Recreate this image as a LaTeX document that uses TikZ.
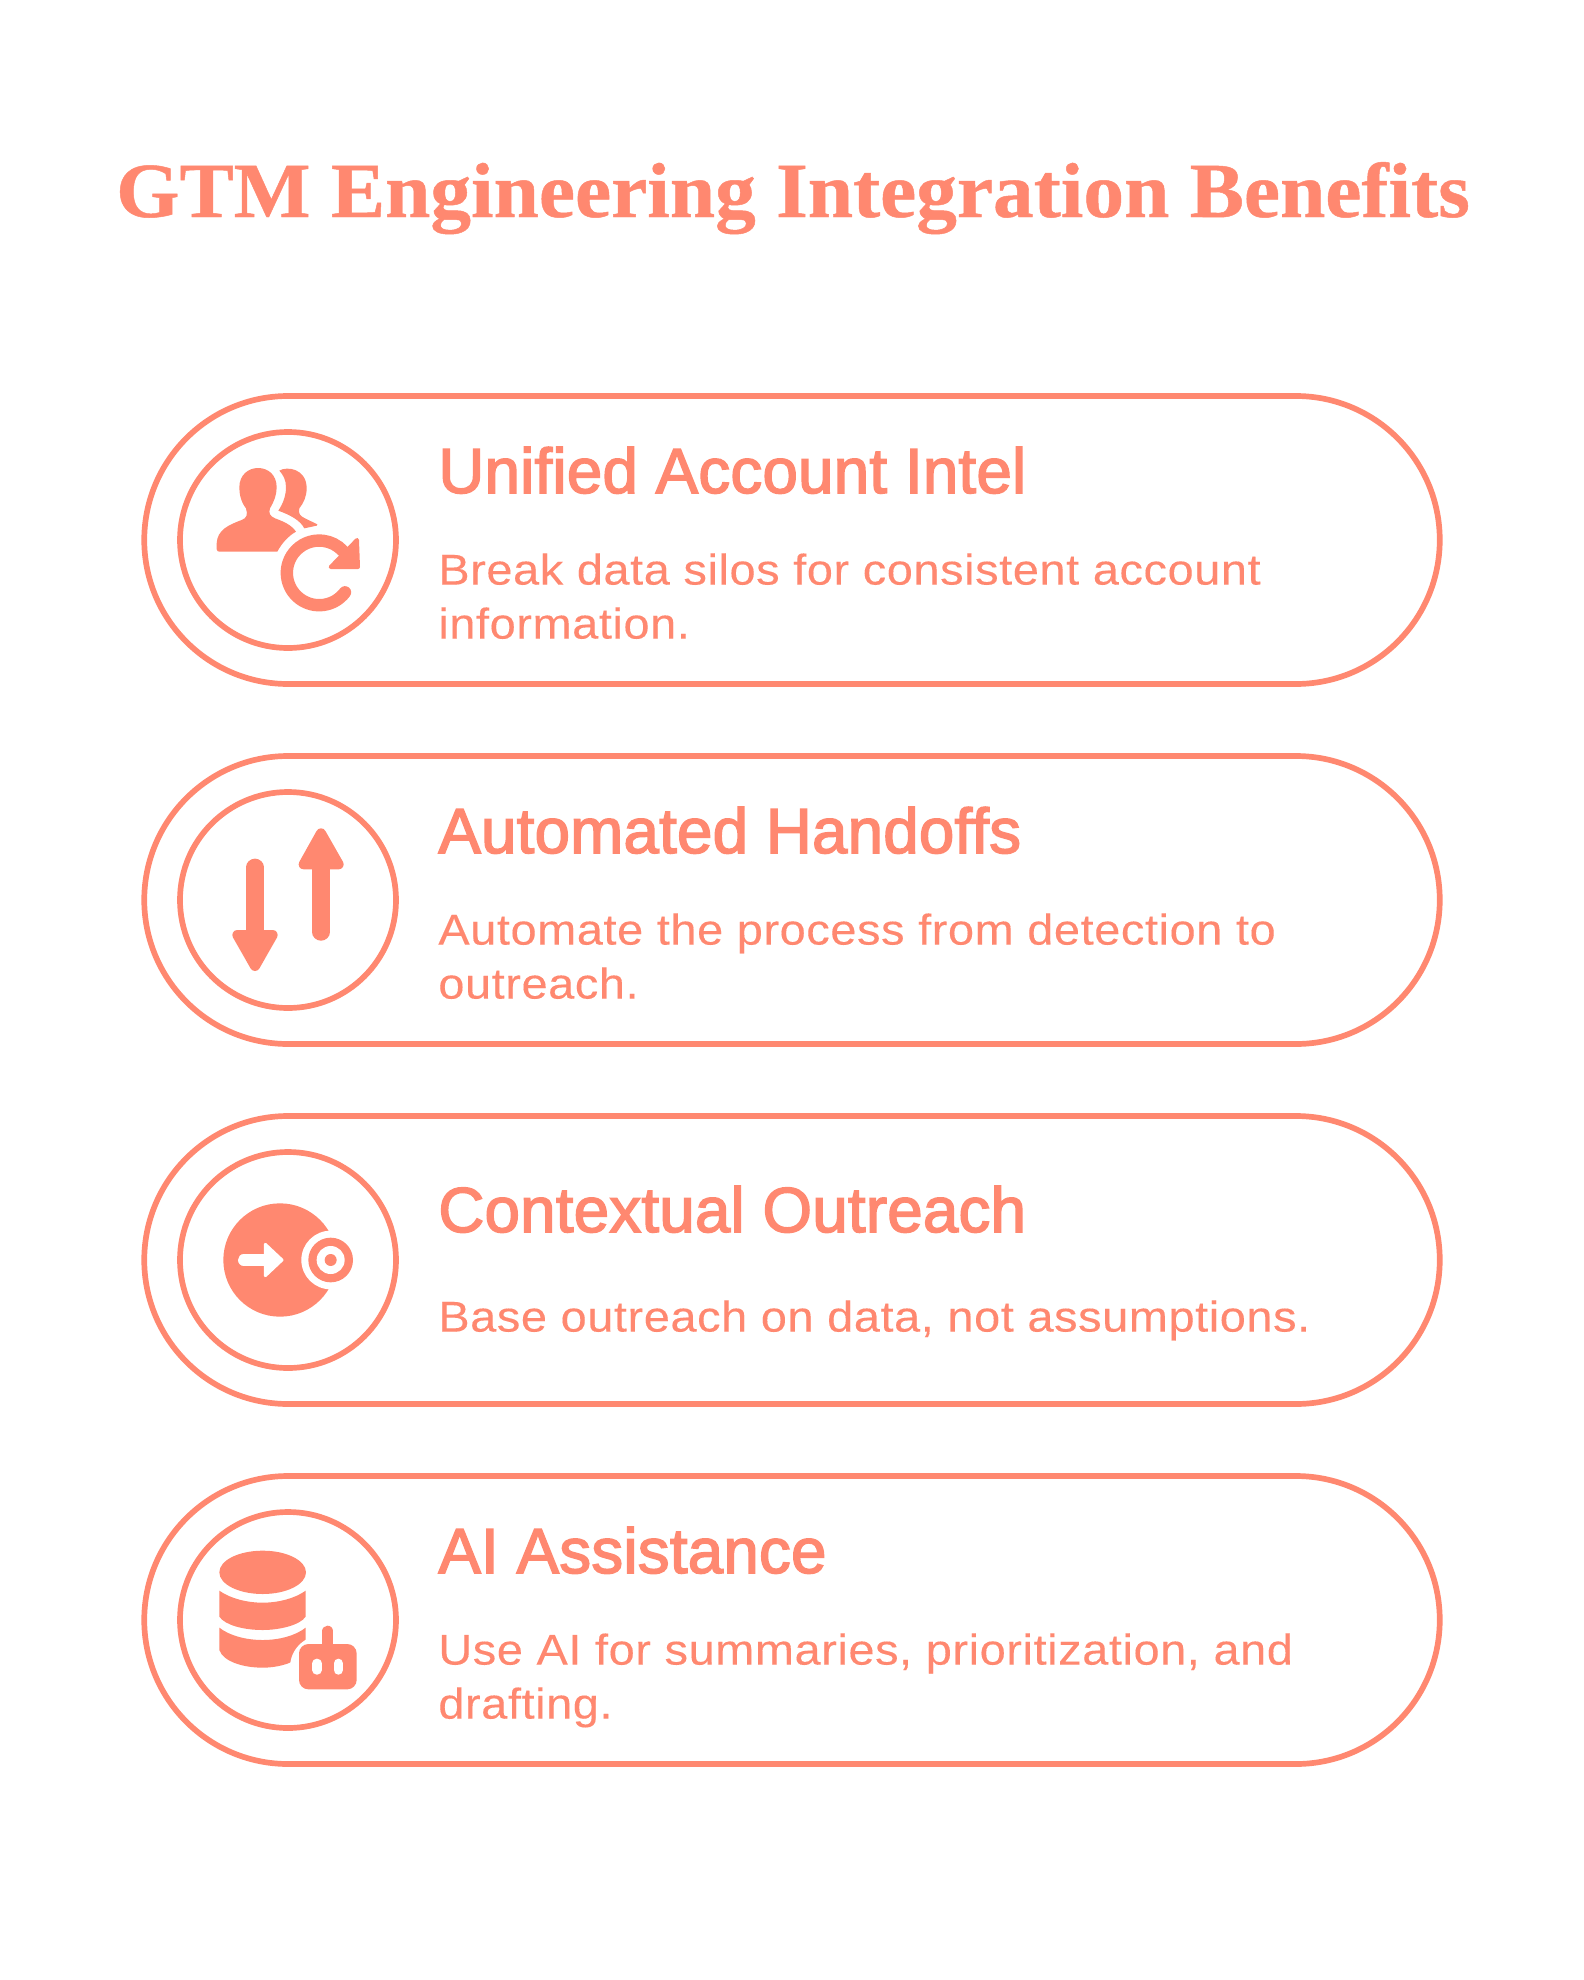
\documentclass[tikz,border=0pt]{standalone}
\usepackage{fontspec}
\usetikzlibrary{shapes.misc}
\setmainfont{Liberation Sans}
\newfontfamily\titlefont[FakeBold=0.6,FakeStretch=1.043]{Liberation Serif Bold}
\newfontfamily\headfont[FakeBold=2.4,LetterSpace=0.4]{Liberation Sans}
\newfontfamily\bodyfont[FakeStretch=1.09,LetterSpace=1.4,FakeBold=0.2]{Liberation Sans}
\definecolor{coral}{HTML}{FF8870}
\tikzset{
	pill/.style={draw=coral, line width=2.85pt, rounded rectangle, minimum width=647.75pt, minimum height=144pt, inner sep=0pt},
	ring/.style={draw=coral, line width=2.85pt, circle, minimum size=108pt, inner sep=0pt},
	titletxt/.style={text=coral, anchor=base, font=\titlefont\fontsize{39}{46}\selectfont, inner sep=0pt},
	headtxt/.style={text=coral, anchor=base west, font=\headfont\fontsize{31.8}{38}\selectfont, inner sep=0pt},
	bodytxt/.style={text=coral, anchor=north west, align=left, font=\bodyfont\fontsize{21.5}{27}\selectfont, inner sep=0pt},
	iconrow/.style={shift={(120,#1)}, scale=1/3},
	softline/.style={line join=round, line width=#1}
}
\begin{document}
\begin{tikzpicture}[x=0.5pt, y=-0.5pt]
	\useasboundingbox (0,0) rectangle (1584,1980);
	\fill[white] (0,0) rectangle (1584,1980);
	\node[titletxt] (title) at (793,217) {GTM Engineering Integration Benefits};
	% first row
	\begin{scope}[iconrow=380, fill=coral, draw=coral]
		\fill (298,515) .. controls (288,515) and (290,505) .. (290,490) .. controls (292,450) and (325,435) .. (365,420) .. controls (380,414) and (384,405) .. (378,385) .. controls (362,365) and (358,340) .. (358,322) .. controls (358,285) and (385,264) .. (414,264) .. controls (445,264) and (470,285) .. (470,322) .. controls (470,345) and (462,365) .. (450,385) .. controls (445,400) and (450,408) .. (465,415) .. controls (490,424) and (515,435) .. (528,455) .. controls (505,468) and (485,490) .. (472,515) -- cycle;
		\fill (478,272) .. controls (500,258) and (560,265) .. (560,325) .. controls (560,350) and (550,370) .. (538,385) .. controls (534,400) and (540,408) .. (555,415) -- (592,433) -- (590,437) -- (553,445) .. controls (540,420) and (510,405) .. (475,392) .. controls (490,370) and (498,345) .. (498,322) .. controls (498,300) and (490,285) .. (478,272) -- cycle;
		\draw[line width=6.2pt, line cap=round] (675,637) arc (37:317:97);
		\fill[draw=coral, softline=2pt] (711,480) -- (714,561) -- (632,561) -- cycle;
	\end{scope}
	\node[pill] (pillone) at (792,540) {};
	\node[ring] (ringone) at (288,540) {};
	\node[headtxt] (headone) at (438,493) {Unified Account Intel};
	\node[bodytxt] (bodyone) at (438,553) {Break data silos for consistent account\\information.};
	% second row
	\begin{scope}[iconrow=740, fill=coral, draw=coral]
		\draw[line width=8.7pt, line cap=round] (405,382) -- (405,590);
		\fill[draw=coral, softline=5pt] (352,585) -- (458,585) -- (405,678) -- cycle;
		\draw[line width=8.7pt, line cap=round] (603,576) -- (603,370);
		\fill[draw=coral, softline=5pt] (551,373) -- (656,373) -- (603,280) -- cycle;
	\end{scope}
	\node[pill] (pilltwo) at (792,900) {};
	\node[ring] (ringtwo) at (288,900) {};
	\node[headtxt] (headtwo) at (438,853) {Automated Handoffs};
	\node[bodytxt] (bodytwo) at (438,913) {Automate the process from detection to\\outreach.};
	% third row
	\begin{scope}[iconrow=1100, fill=coral]
		\fill (480,480) circle (170);
		\fill[white] (632,480) circle (88);
		\fill (632,480) circle (67);
		\fill[white] (632,480) circle (42);
		\fill (632,480) circle (18);
		\draw[white, line width=5.7pt, line cap=round] (371,480) -- (435,480);
		\fill[white, draw=white, softline=1.5pt] (436,433) -- (486,480) -- (436,527) -- cycle;
	\end{scope}
	\node[pill] (pillthree) at (792,1260) {};
	\node[ring] (ringthree) at (288,1260) {};
	\node[headtxt] (headthree) at (438,1232) {Contextual Outreach};
	\node[bodytxt] (bodythree) at (438,1300) {Base outreach on data, not assumptions.};
	% fourth row
	\begin{scope}[iconrow=1460, fill=coral, draw=coral]
		\fill (428,337) ellipse (130 and 65);
		\fill (298,392) .. controls (330,415) and (380,428) .. (428,428) .. controls (476,428) and (525,415) .. (557,392) -- (557,470) .. controls (540,495) and (480,510) .. (428,510) .. controls (370,510) and (315,495) .. (298,470) -- cycle;
		\fill (298,503) .. controls (330,528) and (380,540) .. (428,540) .. controls (476,540) and (525,528) .. (557,503) -- (557,570) .. controls (540,605) and (480,623) .. (428,623) .. controls (370,623) and (310,605) .. (298,570) -- cycle;
		\fill[white, rounded corners=16pt] (510,526) rectangle (737,715);
		\draw[line width=5.7pt, line cap=round] (623,514) -- (623,570);
		\fill[rounded corners=4.7pt] (537,552) rectangle (710,688);
		\draw[white, line width=4.7pt, line cap=round] (591,610) -- (591,630);
		\draw[white, line width=4.7pt, line cap=round] (655,610) -- (655,630);
	\end{scope}
	\node[pill] (pillfour) at (792,1620) {};
	\node[ring] (ringfour) at (288,1620) {};
	\node[headtxt] (headfour) at (438,1573) {AI Assistance};
	\node[bodytxt] (bodyfour) at (438,1633) {Use AI for summaries, prioritization, and\\drafting.};
\end{tikzpicture}
\end{document}
